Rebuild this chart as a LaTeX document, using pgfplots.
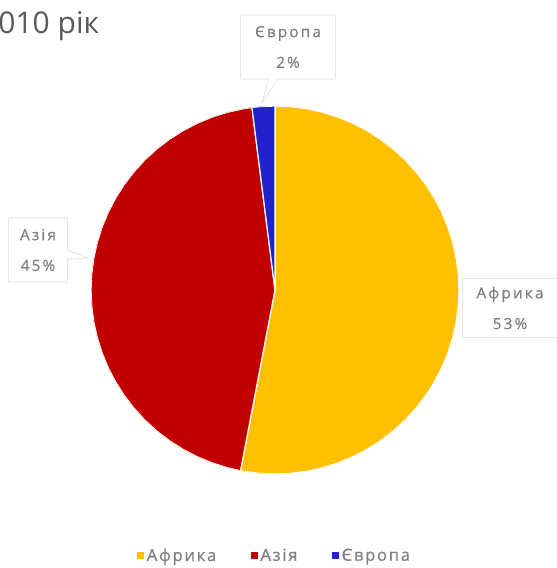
\documentclass[border=0pt]{standalone}
\usepackage{pgfplots}
\pgfplotsset{compat=1.18}
\usepgfplotslibrary{polar}
\usetikzlibrary{shapes.callouts}
\usepackage{fontspec}
\setmainfont{Open Sans}
\newfontfamily\lblfont[LetterSpace=14, FakeBold=0.5]{Open Sans}
\newfontfamily\legfont[LetterSpace=10, FakeBold=0.6]{Open Sans}
\definecolor{afr}{HTML}{FFC000}
\definecolor{asi}{HTML}{C00000}
\definecolor{eur}{HTML}{2222CC}
\definecolor{txt}{HTML}{808080}
\definecolor{ttl}{HTML}{595959}
\begin{document}
\begin{tikzpicture}
\useasboundingbox (0pt,0pt) rectangle (417.75pt,-426pt);
\begin{scope}[x=0.75pt,y=-0.75pt]
\coordinate (pc) at (275,290);
\node[anchor=base west, text=ttl, font=\fontsize{22.5}{27}\selectfont, inner sep=0] at (-19,33) {2010 рік};
\end{scope}
\begin{polaraxis}[at={(pc)}, anchor=center, hide axis, scale only axis,
  width=276pt, height=276pt, ymin=0, ymax=1,
  legend style={at={(0.5,-0.222)}, anchor=center, draw=none, fill=none,
    legend columns=-1, font=\legfont\fontsize{12.5}{14}\selectfont, text=txt,
    /tikz/every even column/.append style={column sep=24pt}},
  legend image code/.code={\fill[#1, draw=none] (0.06cm,-0.09cm) rectangle (0.24cm,0.09cm);},
  ]
\addplot[fill=afr, draw=white, line width=0.9pt] coordinates {(0,0) (90,1) (85,1) (80,1) (75,1) (70,1) (65,1) (60,1) (55,1) (50,1) (45,1) (40,1) (35,1) (30,1) (25,1) (20,1) (15,1) (10,1) (5,1) (0,1) (-5,1) (-10,1) (-15,1) (-20,1) (-25,1) (-30,1) (-35,1) (-40,1) (-45,1) (-50,1) (-55,1) (-60,1) (-65,1) (-70,1) (-75,1) (-80,1) (-85,1) (-90,1) (-95,1) (-100,1) (-100.8,1)} -- cycle;
\addlegendentry{Африка}
\addplot[fill=asi, draw=white, line width=0.9pt] coordinates {(0,0) (-100.8,1) (-105,1) (-110,1) (-115,1) (-120,1) (-125,1) (-130,1) (-135,1) (-140,1) (-145,1) (-150,1) (-155,1) (-160,1) (-165,1) (-170,1) (-175,1) (-180,1) (-185,1) (-190,1) (-195,1) (-200,1) (-205,1) (-210,1) (-215,1) (-220,1) (-225,1) (-230,1) (-235,1) (-240,1) (-245,1) (-250,1) (-255,1) (-260,1) (-262.8,1)} -- cycle;
\addlegendentry{Азія}
\addplot[fill=eur, draw=white, line width=0.9pt] coordinates {(0,0) (-262.8,1) (-265,1) (-270,1)} -- cycle;
\addlegendentry{Європа}
\end{polaraxis}
\begin{scope}[x=0.75pt,y=-0.75pt]
\tikzset{lbl/.style={rectangle callout, draw=gray!30, fill=white, text=txt, align=center,
  font=\lblfont\fontsize{11.5}{23}\selectfont, inner sep=2pt}}
\node[lbl, minimum width=71pt, minimum height=48pt, callout absolute pointer={(262,103)}] at (288,47) {Європа\\2\%};
\node[lbl, minimum width=44pt, minimum height=48pt, callout absolute pointer={(88,258)}] at (38,250) {Азія\\45\%};
\node[lbl, minimum width=71pt, minimum height=44pt, callout absolute pointer={(463,298)}] at (510,308) {Африка\\53\%};
\end{scope}
\end{tikzpicture}
\end{document}
